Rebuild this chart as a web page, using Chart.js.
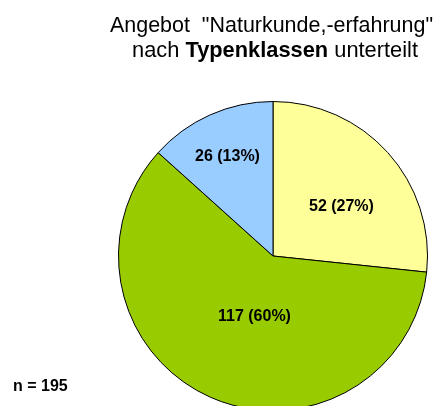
<!DOCTYPE html>
<html>
<head>
<meta charset="utf-8">
<script src="https://cdn.jsdelivr.net/npm/chart.js@4"></script>
<style>
  html, body { margin: 0; padding: 0; background: #fff; overflow: hidden; }
  #wrap { width: 442px; height: 420px; position: relative; }
</style>
</head>
<body>
<div id="wrap"><canvas id="pieChart"></canvas></div>
<script>
var categories = ["Typ A", "Typ B", "Typ C"];
var values = [52, 117, 26];
var colors = ["#FFFF99", "#99CC00", "#99CCFF"];
var sampleText = "n = 195";

// label placement: fraction of radius and angle nudge (degrees)
var labelRadius = [0.545, 0.41, 0.705];
var labelTurn = [6.4, -7, -0.7];

var total = values.reduce(function (a, b) { return a + b; }, 0);
var FONT = "'Liberation Sans', Arial, sans-serif";

// draws text pieces squeezed/stretched to a given total width
function fitLine(ctx, parts, left, width, y) {
    var w = 0;
    parts.forEach(function (p) { ctx.font = p.f; w += ctx.measureText(p.t).width; });
    var s = width / w;
    ctx.save();
    ctx.translate(left, y);
    ctx.scale(s, 1);
    var x = 0;
    parts.forEach(function (p) {
        ctx.font = p.f;
        ctx.fillText(p.t, x, 0);
        x += ctx.measureText(p.t).width;
    });
    ctx.restore();
}

var titlePlugin = {
    id: "titleText",
    afterDraw: function (chart) {
        var ctx = chart.ctx;
        ctx.save();
        ctx.fillStyle = "#000";
        ctx.textBaseline = "alphabetic";
        ctx.textAlign = "left";
        var reg = "22px " + FONT;
        var bold = "bold 22px " + FONT;
        fitLine(ctx, [{ t: 'Angebot  "Naturkunde,-erfahrung"', f: reg }], 110, 323, 32);
        fitLine(ctx, [
            { t: "nach ", f: reg },
            { t: "Typenklassen", f: bold },
            { t: " unterteilt", f: reg }
        ], 132, 286, 57);

        ctx.font = "bold 16px " + FONT;
        ctx.fillText(sampleText, 13, 391);
        ctx.restore();
    }
};

var labelPlugin = {
    id: "sliceLabels",
    afterDatasetsDraw: function (chart) {
        var ctx = chart.ctx;
        var meta = chart.getDatasetMeta(0);
        ctx.save();
        ctx.fillStyle = "#000";
        ctx.font = "bold 16px " + FONT;
        ctx.textAlign = "center";
        ctx.textBaseline = "middle";
        meta.data.forEach(function (arc, i) {
            var p = arc.getProps(["x", "y", "startAngle", "endAngle", "outerRadius"], true);
            var mid = (p.startAngle + p.endAngle) / 2 + labelTurn[i] * Math.PI / 180;
            var r = p.outerRadius * labelRadius[i];
            var pct = Math.round(values[i] / total * 100);
            ctx.fillText(values[i] + " (" + pct + "%)", p.x + Math.cos(mid) * r, p.y + Math.sin(mid) * r);
        });
        ctx.restore();
    }
};

var config = {
    type: "pie",
    data: {
        labels: categories,
        datasets: [
            {
                data: values,
                backgroundColor: colors,
                borderColor: "#000",
                borderWidth: 1,
                hoverOffset: 0
            }
        ]
    },
    options: {
        responsive: false,
        animation: false,
        layout: {
            padding: { top: 101, bottom: 9, left: 118, right: 14 }
        },
        plugins: {
            legend: { display: false },
            title: { display: false },
            tooltip: { enabled: false }
        }
    },
    plugins: [labelPlugin, titlePlugin]
};

var canvasElement = document.getElementById("pieChart");
canvasElement.width = 442;
canvasElement.height = 420;
var pieChart = new Chart(canvasElement, config);
</script>
</body>
</html>
